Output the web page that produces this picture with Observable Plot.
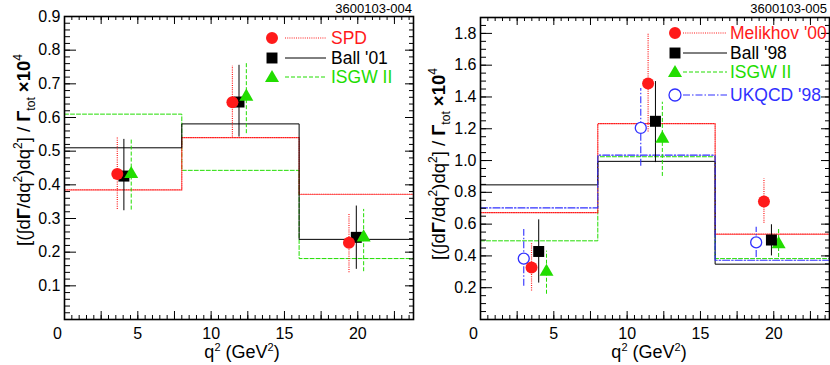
<!DOCTYPE html>
<html><head><meta charset="utf-8">
<script src="https://cdn.jsdelivr.net/npm/d3@7"></script>
<script src="https://cdn.jsdelivr.net/npm/@observablehq/plot@0.6"></script>
<style>
body{margin:0;background:#fff;}
#wrap{display:flex;width:830px;height:365px;overflow:hidden;}
svg{font-family:"Liberation Sans",Arial,Helvetica,sans-serif;}
</style></head><body><div id="wrap"></div>
<script>
// ---------- shared ----------
const binEdges = [0, 8, 16, 24];
const xTickLabels = [0, 5, 10, 15, 20];

// ---------- left panel (3600103-004) ----------
const leftNames = ["SPD", "Ball '01", "ISGW II"];
const leftHistSPD = [0.385, 0.540, 0.372];
const leftHistBall = [0.510, 0.581, 0.238];
const leftHistISGW = [0.610, 0.443, 0.181];

const leftXSPD = [3.6, 11.45, 19.4];
const leftYSPD = [0.432, 0.645, 0.228];
const leftLoSPD = [0.327, 0.542, 0.139];
const leftHiSPD = [0.540, 0.752, 0.315];

const leftXBall = [4.05, 11.9, 19.9];
const leftYBall = [0.426, 0.646, 0.244];
const leftLoBall = [0.323, 0.542, 0.149];
const leftHiBall = [0.535, 0.755, 0.337];

const leftXISGW = [4.55, 12.4, 20.4];
const leftYISGW = [0.432, 0.662, 0.244];
const leftLoISGW = [0.325, 0.552, 0.142];
const leftHiISGW = [0.535, 0.765, 0.327];

const leftYLabels = [0.1, 0.2, 0.3, 0.4, 0.5, 0.6, 0.7, 0.8, 0.9];

// ---------- right panel (3600103-005) ----------
const rightNames = ["Melikhov '00", "Ball '98", "ISGW II", "UKQCD '98"];
const rightHistMel = [0.672, 1.232, 0.537];
const rightHistBall = [0.847, 0.995, 0.348];
const rightHistISGW = [0.495, 1.024, 0.383];
const rightHistUK = [0.702, 1.034, 0.373];

const rightXMel = [3.48, 11.43, 19.33];
const rightYMel = [0.327, 1.485, 0.742];
const rightLoMel = [0.18, 1.18, 0.605];
const rightHiMel = [0.485, 1.80, 0.885];

const rightXBall = [3.97, 11.93, 19.84];
const rightYBall = [0.428, 1.247, 0.500];
const rightLoBall = [0.229, 0.987, 0.400];
const rightHiBall = [0.627, 1.497, 0.596];

const rightXISGW = [4.5, 12.4, 20.33];
const rightYISGW = [0.30, 1.138, 0.474];
const rightLoISGW = [0.159, 0.90, 0.39];
const rightHiISGW = [0.43, 1.367, 0.57];

const rightXUK = [2.95, 10.93, 18.8];
const rightYUK = [0.383, 1.205, 0.485];
const rightLoUK = [0.209, 0.964, 0.39];
const rightHiUK = [0.567, 1.453, 0.58];

const rightYLabels = [0.2, 0.4, 0.6, 0.8, 1.0, 1.2, 1.4, 1.6, 1.8];

// ---------- styles ----------
const RED = "#ff1a1a", BLACK = "#000000", GREEN = "#22dd00", BLUE = "#3030ff";
const sty = {
  red:   {stroke: RED, dash: "1,1.2", width: 1.2},
  black: {stroke: BLACK, dash: null, width: 1},
  green: {stroke: GREEN, dash: "4,2", width: 1},
  blue:  {stroke: BLUE, dash: "7,2,1.5,2", width: 1.1}
};

function steps(vals) { return binEdges.map((e, i) => ({x: e, y: vals[Math.min(i, vals.length - 1)]})); }
function pts(xs, ys, lo, hi) { return xs.map((x, i) => ({x, y: ys[i], lo: lo[i], hi: hi[i]})); }
function rangeTicks(start, stop, step) { const out = []; for (let i = 0; start + i * step <= stop + 1e-9; i++) out.push(+(start + i * step).toFixed(4)); return out; }

function histMark(vals, s) {
  return Plot.line(steps(vals), {x: "x", y: "y", curve: "step-after", stroke: s.stroke, strokeWidth: s.width, strokeDasharray: s.dash, clip: true});
}
function errMark(data, s) {
  return Plot.ruleX(data, {x: "x", y1: "lo", y2: "hi", stroke: s.stroke, strokeWidth: s.width, strokeDasharray: s.dash});
}
// inward ticks on all four sides, drawn as short rules spanning the frame with insets
function tickMarks(innerW, innerH, xMaj, xMin, yMaj, yMin) {
  const c = {stroke: "#000", strokeWidth: 1};
  return [
    Plot.ruleX(xMin, {...c, x: d => d, insetTop: innerH - 4}),
    Plot.ruleX(xMaj, {...c, x: d => d, insetTop: innerH - 8}),
    Plot.ruleX(xMin, {...c, x: d => d, insetBottom: innerH - 4}),
    Plot.ruleX(xMaj, {...c, x: d => d, insetBottom: innerH - 8}),
    Plot.ruleY(yMin, {...c, y: d => d, insetRight: innerW - 6}),
    Plot.ruleY(yMaj, {...c, y: d => d, insetRight: innerW - 12}),
    Plot.ruleY(yMin, {...c, y: d => d, insetLeft: innerW - 4}),
    Plot.ruleY(yMaj, {...c, y: d => d, insetLeft: innerW - 8})
  ];
}
function labelAxes(yLabels) {
  return [
    Plot.axisX({anchor: "bottom", ticks: xTickLabels.slice(0, 1), tickSize: 0, tickPadding: 8, fontSize: 16, label: null, dx: -7, tickFormat: d => String(d)}),
    Plot.axisX({anchor: "bottom", ticks: xTickLabels.slice(1), tickSize: 0, tickPadding: 8, fontSize: 16, label: null, tickFormat: d => String(d)}),
    Plot.axisY({anchor: "left", ticks: yLabels, tickSize: 0, tickPadding: 4, fontSize: 16, label: null, tickFormat: d => d.toFixed(1)})
  ];
}

function addYTitle(svg, x, y) {
  const t = svg.append("text").attr("transform", `translate(${x},${y}) rotate(-90)`)
    .attr("text-anchor", "middle").attr("font-size", 18.5).attr("fill", "#000");
  t.append("tspan").text("[(∫d");
  t.append("tspan").text("Γ").attr("font-weight", "bold");
  t.append("tspan").text("/dq");
  t.append("tspan").text("2").attr("font-size", 12).attr("dy", -8);
  t.append("tspan").text(")dq").attr("dy", 8);
  t.append("tspan").text("2").attr("font-size", 12).attr("dy", -8);
  t.append("tspan").text("] / ").attr("dy", 8);
  t.append("tspan").text("Γ").attr("font-weight", "bold");
  t.append("tspan").text("tot").attr("font-size", 12).attr("dy", 5);
  t.append("tspan").text(" ×10").attr("dy", -5).attr("font-weight", "bold");
  t.append("tspan").text("4").attr("font-size", 12).attr("dy", -8);
}
function addXTitle(svg, x, y) {
  const t = svg.append("text").attr("x", x).attr("y", y).attr("text-anchor", "middle").attr("font-size", 18).attr("fill", "#000");
  t.append("tspan").text("q");
  t.append("tspan").text("2").attr("font-size", 11).attr("dy", -7);
  t.append("tspan").text(" (GeV").attr("dy", 7);
  t.append("tspan").text("2").attr("font-size", 11).attr("dy", -7);
  t.append("tspan").text(")").attr("dy", 7);
}
function addId(svg, x, text) {
  svg.append("text").attr("x", x).attr("y", 13).attr("text-anchor", "end").attr("font-size", 13).attr("fill", "#000").text(text);
}
function addLegend(svg, entries, x0, lineX1, lineX2, textX) {
  for (const e of entries) {
    const s = e.style;
    svg.append("line").attr("x1", lineX1).attr("x2", lineX2).attr("y1", e.y).attr("y2", e.y)
      .attr("stroke", s.stroke).attr("stroke-width", s.width).attr("stroke-dasharray", s.dash);
    const size = e.symbol === "square" ? 120 : e.symbol === "triangle" ? 85 : 113;
    const sym = e.symbol === "square" ? d3.symbolSquare : e.symbol === "triangle" ? d3.symbolTriangle : d3.symbolCircle;
    const p = svg.append("path").attr("d", d3.symbol(sym, size)()).attr("transform", `translate(${x0},${e.y + (e.symbol === "triangle" ? 1 : 0)})`);
    if (e.open) p.attr("fill", "#fff").attr("stroke", s.stroke).attr("stroke-width", 1.3);
    else p.attr("fill", s.stroke);
    svg.append("text").attr("x", textX).attr("y", e.y + 6).attr("text-anchor", "start").attr("font-size", 17.5).attr("fill", s.stroke).text(e.name);
  }
}

const xMaj = rangeTicks(0, 23.8, 2.5);
const xMin = rangeTicks(0, 23.8, 0.5);

// ---------- left ----------
const lSPD = pts(leftXSPD, leftYSPD, leftLoSPD, leftHiSPD);
const lBall = pts(leftXBall, leftYBall, leftLoBall, leftHiBall);
const lISGW = pts(leftXISGW, leftYISGW, leftLoISGW, leftHiISGW);

const left = Plot.plot({
  width: 415, height: 365,
  marginLeft: 64, marginRight: 2, marginTop: 16, marginBottom: 46,
  x: {domain: [0, 23.8]},
  y: {domain: [0, 0.9]},
  style: {fontFamily: "Liberation Sans, Arial, sans-serif", background: "#fff"},
  marks: [
    histMark(leftHistISGW, sty.green),
    histMark(leftHistSPD, sty.red),
    histMark(leftHistBall, sty.black),
    errMark(lSPD, sty.red),
    errMark(lBall, sty.black),
    errMark(lISGW, sty.green),
    Plot.dot(lBall, {x: "x", y: "y", symbol: "square", r: 6.2, fill: BLACK}),
    Plot.dot(lSPD, {x: "x", y: "y", symbol: "circle", r: 6, fill: RED}),
    Plot.dot(lISGW, {x: "x", y: "y", symbol: "triangle", r: 5.2, fill: GREEN}),
    ...tickMarks(349, 303, xMaj, xMin, leftYLabels, rangeTicks(0.02, 0.9, 0.02)),
    ...labelAxes(leftYLabels),
    Plot.frame({stroke: "#000", strokeWidth: 1.6})
  ]
});

// ---------- right ----------
const rMel = pts(rightXMel, rightYMel, rightLoMel, rightHiMel);
const rBall = pts(rightXBall, rightYBall, rightLoBall, rightHiBall);
const rISGW = pts(rightXISGW, rightYISGW, rightLoISGW, rightHiISGW);
const rUK = pts(rightXUK, rightYUK, rightLoUK, rightHiUK);

const right = Plot.plot({
  width: 415, height: 365,
  marginLeft: 65, marginRight: 1, marginTop: 17, marginBottom: 46,
  x: {domain: [0, 23.8]},
  y: {domain: [0, 1.9]},
  style: {fontFamily: "Liberation Sans, Arial, sans-serif", background: "#fff"},
  marks: [
    histMark(rightHistISGW, sty.green),
    histMark(rightHistMel, sty.red),
    histMark(rightHistBall, sty.black),
    histMark(rightHistUK, sty.blue),
    errMark(rUK, sty.blue),
    errMark(rMel, sty.red),
    errMark(rBall, sty.black),
    errMark(rISGW, sty.green),
    Plot.dot(rUK, {x: "x", y: "y", symbol: "circle", r: 5.5, fill: "#fff", stroke: BLUE, strokeWidth: 1.3}),
    Plot.dot(rISGW, {x: "x", y: "y", symbol: "triangle", r: 5.2, fill: GREEN}),
    Plot.dot(rBall, {x: "x", y: "y", symbol: "square", r: 6.2, fill: BLACK}),
    Plot.dot(rMel, {x: "x", y: "y", symbol: "circle", r: 6, fill: RED}),
    ...tickMarks(349, 302, xMaj, xMin, rightYLabels, rangeTicks(0.05, 1.9, 0.05)),
    ...labelAxes(rightYLabels),
    Plot.frame({stroke: "#000", strokeWidth: 1.6})
  ]
});

const wrap = document.getElementById("wrap");
wrap.appendChild(left);
wrap.appendChild(right);

const ls = d3.select(left);
addYTitle(ls, 30, 150);
addXTitle(ls, 242, 358);
addId(ls, 412, "3600103-004");
addLegend(ls, [
  {name: leftNames[0], style: sty.red, symbol: "circle", y: 38},
  {name: leftNames[1], style: sty.black, symbol: "square", y: 58},
  {name: leftNames[2], style: sty.green, symbol: "triangle", y: 77}
], 272, 285, 326, 331);

const rs = d3.select(right);
addYTitle(rs, 30, 164);
addXTitle(rs, 234, 358);
addId(rs, 412, "3600103-005");
addLegend(rs, [
  {name: rightNames[0], style: sty.red, symbol: "circle", y: 33},
  {name: rightNames[1], style: sty.black, symbol: "square", y: 53},
  {name: rightNames[2], style: sty.green, symbol: "triangle", y: 72},
  {name: rightNames[3], style: sty.blue, symbol: "circle", open: true, y: 95}
], 260, 268, 312, 315);
</script>
</body></html>
